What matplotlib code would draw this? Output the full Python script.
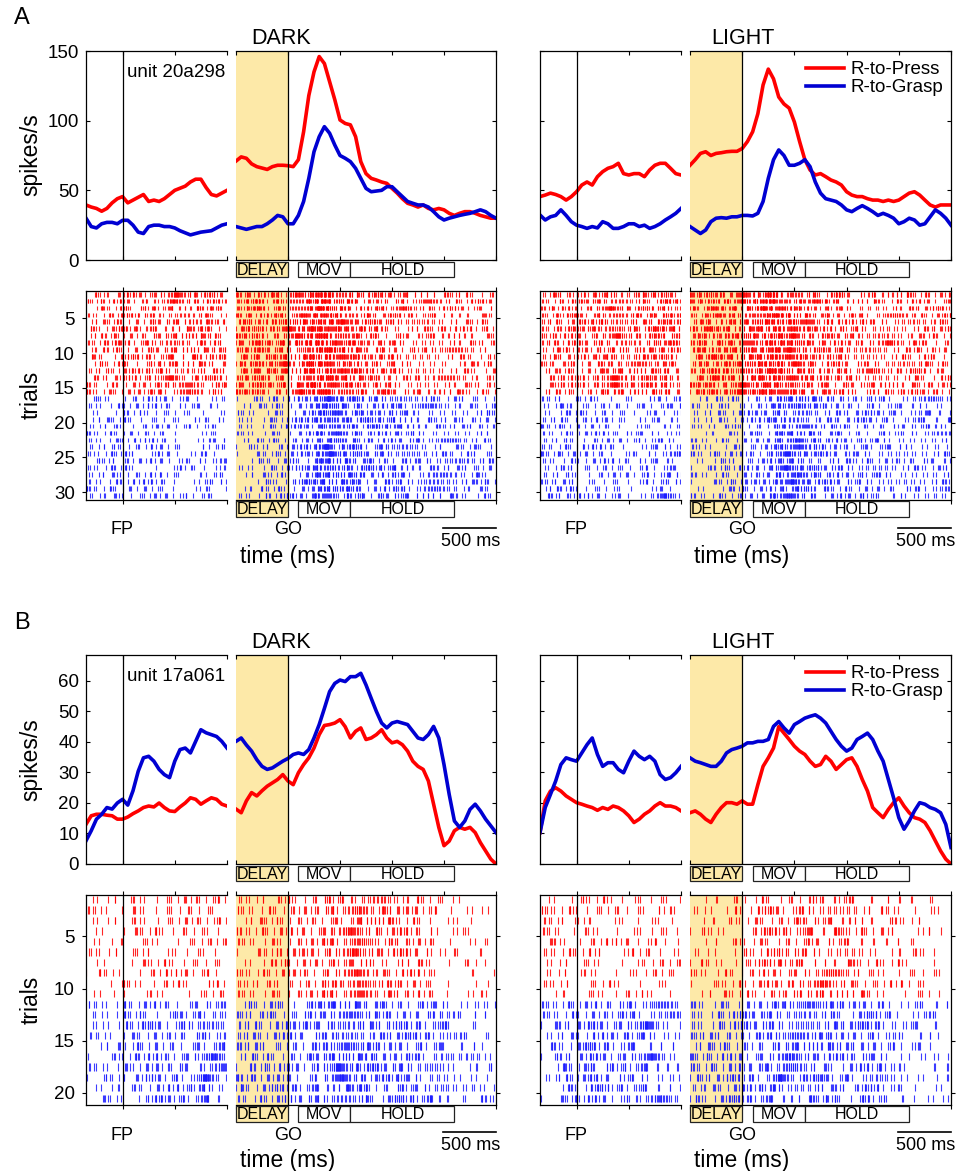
import numpy as np
import matplotlib
matplotlib.use('Agg')
import matplotlib.pyplot as plt
from matplotlib.patches import Rectangle
from matplotlib.lines import Line2D

plt.rcParams['font.family'] = ['Liberation Sans', 'DejaVu Sans']

W, H = 957, 1171
RED = '#ff0000'
BLUE = '#0000d2'
RASTER_BLUE = '#1a1aff'
DELAY_FILL = '#fde9a8'

# time bases (ms): left part aligned on FP, right part aligned on GO
t_fp = np.arange(-350, 1001, 50)
t_go = np.arange(-500, 2001, 50)

# ---- unit 20a298 (A), firing rate in spikes/s ----
a_dark_press_fp = [39.5, 38, 37, 35, 37, 41, 44, 45.5, 41, 43, 45, 47, 42, 43, 42, 44, 47, 50, 51.5, 53,
                   56, 58, 58, 52, 47, 46, 48, 50]
a_dark_grasp_fp = [30, 24, 23, 26, 27, 27, 26, 28.5, 28.5, 25, 20, 19, 24, 25, 25, 24, 24, 23, 21, 19.5,
                   18, 19, 20, 20.5, 21, 23, 25, 26]
a_dark_press_go = [71, 74, 73, 69, 67, 66, 65, 67, 68, 68, 67.7, 67, 72, 92, 118, 135, 146, 141, 128, 115,
                   100.5, 98, 97, 88.5, 70.6, 62, 58.6, 57.4, 56, 55, 51.4, 48, 44, 40.7, 39.5, 38, 39.5, 37,
                   36, 37, 36, 33.5, 32, 33.5, 34.7, 34.7, 33.5, 32, 31, 30, 30]
a_dark_grasp_go = [24, 23, 22, 23, 24, 24, 26, 28.7, 32, 31, 26, 26, 32, 42, 58.6, 77.7, 88.5, 95.7, 91, 82.5,
                   75, 73, 70.6, 65.8, 58.6, 51.4, 49, 49.5, 50, 52.6, 52.6, 49, 45.5, 42, 40.7, 39.5, 39.5,
                   38, 34.7, 31, 28.7, 30, 31, 32, 32.8, 33.5, 34.7, 36, 34.7, 32, 30]
a_light_press_fp = [45.5, 46.6, 48, 47, 45.5, 43, 45.5, 49, 53.8, 56, 53.8, 59.8, 63.4, 65.8, 67, 69.4, 62,
                    61, 62, 62, 59.8, 64.6, 68, 69.4, 69.4, 65.8, 62, 61]
a_light_grasp_fp = [32.3, 28.7, 31, 32, 36, 32, 27.5, 25, 24, 22.7, 24, 23, 27.5, 26, 22.7, 22.7, 24, 26, 26,
                    24, 25, 22.7, 24, 26, 28.7, 31, 33.5, 37]
a_light_press_go = [68, 72, 76.5, 77.7, 75, 76.5, 77, 77.7, 78, 78, 80, 85, 92, 105, 125.6, 137, 130, 117, 112,
                    109, 99, 85, 72, 64.6, 61, 62, 59.8, 57.4, 56, 53.8, 49, 46.6, 45.5, 45.5, 44, 43, 43,
                    42, 43, 42, 43, 45.5, 48, 49, 46.6, 43, 39.5, 38, 39.5, 39.5, 39.5]
a_light_grasp_go = [24, 21.5, 19, 21.5, 27.5, 30, 30.4, 30, 31, 31, 32, 32, 31.6, 33.5, 42, 58.6, 72, 79, 75,
                    68, 68, 69.4, 72, 67, 56, 48, 44, 43, 42, 39.5, 36, 34.7, 37, 39, 37, 34.7, 32, 33.5, 32,
                    30, 26, 27.5, 30, 28.7, 25, 26, 31, 36, 33.5, 30, 25]

# ---- unit 17a061 (B) ----
b_dark_press_fp = [13, 15.8, 16.3, 16.3, 16, 15.8, 14.7, 14.7, 15.4, 16.5, 17.4, 18.5, 19, 18.7, 20, 18.5,
                   17.4, 17.2, 18.7, 20, 21.7, 21.2, 19.6, 20.7, 21.7, 21.2, 19.6, 19]
b_dark_grasp_fp = [7.6, 10.9, 14.7, 16.3, 18.5, 18, 20, 21.2, 19.3, 24, 30.4, 34.8, 35.3, 33.7, 31, 29.3,
                   28.3, 33.7, 37.5, 38, 36.4, 40.2, 44, 43, 42.4, 41.8, 40.2, 38]
b_dark_press_go = [18, 16.8, 20.7, 23.4, 22.3, 24, 25.5, 26.6, 27.7, 29.3, 27.2, 26, 29.9, 32.6, 34.8, 38,
                   42.4, 45.4, 45.7, 46.2, 47.3, 45, 41.3, 43.5, 44.6, 40.8, 41.3, 42.4, 44, 41.3, 39.7, 40.2,
                   39.1, 37, 33.7, 32, 31, 27.2, 19.6, 12, 6, 7.5, 10.9, 12, 11.4, 12, 10.3, 7, 4.3, 1.6, 0]
b_dark_grasp_go = [40.2, 41.3, 39, 37, 34.2, 32, 31, 31.5, 32.6, 33.7, 34.6, 35.9, 36.4, 35.9, 37.5, 41.3,
                   45.7, 51, 56.5, 59.2, 60.3, 59.8, 61.4, 61.4, 62.5, 58.7, 54.3, 50, 46.2, 44.6, 46.2, 46.7,
                   46.2, 45.7, 43.5, 41.3, 40.8, 42.4, 45.1, 41.3, 32.6, 22.8, 14.1, 12, 14.1, 17.9, 19.6,
                   17.4, 14.7, 12.5, 10.3]
b_light_press_fp = [10.3, 20.7, 23.9, 25, 23.9, 22.3, 21.2, 20.1, 19.6, 19, 18.5, 17.6, 18.5, 17.9, 19, 18.5,
                    17.4, 15.8, 13.6, 14.7, 16.3, 17.4, 19, 20.1, 19, 19, 18.5, 17.4]
b_light_grasp_fp = [10.3, 18.5, 22.8, 27.2, 32.6, 34.8, 34.2, 33.7, 36.4, 39.1, 41.3, 35.9, 32, 33.2, 33.2,
                    31, 29.9, 33.7, 37, 35.3, 34.2, 35.3, 33.7, 29.3, 27.7, 28.3, 29.9, 32]
b_light_press_go = [16.8, 17.4, 16.3, 14.7, 13.6, 16.3, 18.5, 20.1, 20.1, 19.6, 20.7, 19.6, 19.6, 26, 32, 34.8,
                    38, 45, 42.9, 40.8, 38.6, 37, 35.9, 33.7, 32, 32.6, 35.3, 33.7, 31, 32.6, 34.2, 34.8, 32,
                    27.7, 23.9, 18.5, 16.8, 15.2, 17.9, 20.1, 21.7, 19, 16.8, 15.2, 14.7, 13.6, 10.9, 7.6,
                    4.3, 1.6, 0]
b_light_grasp_go = [34.8, 33.7, 33.2, 32.6, 32, 32, 33.7, 36.4, 37.5, 38, 38.6, 39.7, 39.7, 40.2, 40.2, 40.8,
                    45.1, 46.7, 44.6, 42.9, 45.7, 46.7, 47.8, 48.4, 48.9, 47.8, 46.2, 43.5, 40.8, 38.6, 37,
                    38, 40.8, 41.8, 42.9, 40.8, 37, 33.7, 27.7, 21.7, 15.2, 11.4, 14.1, 17.4, 20.1, 19.6,
                    18.5, 17.9, 16.8, 13, 5.4]

# trials per condition (press, grasp)
a_trials = (15, 15)
b_trials = (10, 10)

event_names = ['DELAY', 'MOV', 'HOLD']
event_start = [-500, 100, 600]
event_end = [0, 600, 1600]

fig = plt.figure(figsize=(W / 100, H / 100), dpi=100)


def frac(x0, y0, x1, y1):
    return [x0 / W, 1 - y1 / H, (x1 - x0) / W, (y1 - y0) / H]


def ftext(x, y, s, **kw):
    fig.text(x / W, 1 - y / H, s, **kw)


def pair(xs, y0, y1, raster, labels):
    axl = fig.add_axes(frac(xs[0], y0, xs[1], y1))
    axr = fig.add_axes(frac(xs[2], y0, xs[3], y1))
    axl.set_xlim(-350, 1000)
    axr.set_xlim(-500, 2000)
    axl.set_xticks([0, 500, 1000])
    axr.set_xticks(np.arange(-500, 2001, 500))
    axl.spines['right'].set_visible(False)
    axr.spines['left'].set_visible(False)
    d = 'out' if raster else 'in'
    for ax in (axl, axr):
        ax.tick_params(direction=d, length=3, width=0.8, top=True, bottom=True,
                       labelbottom=False, labelsize=13.5, pad=5)
        for s in ax.spines.values():
            s.set_linewidth(0.9)
    axl.tick_params(axis='y', left=True, right=False, labelleft=labels)
    axr.tick_params(axis='y', left=False, right=True, labelleft=False)
    axr.axvspan(-500, 0, color=DELAY_FILL, lw=0, zorder=0)
    axl.axvline(0, color='k', lw=0.9, zorder=3)
    axr.axvline(0, color='k', lw=0.9, zorder=3)
    return axl, axr


def spikes(t, rate, lo, hi, trial):
    # spike times whose density follows the read-off rate curve
    tt = np.arange(lo, hi, 1.0)
    cum = np.cumsum(np.interp(tt, t, rate)) / 1000.0
    j = np.arange(1, int(cum[-1]) + 40)
    u = (0.7548776662 * j * j + 0.5698402910 * j + 0.3819660113 * trial * trial + 0.137 * trial) % 1.0
    marks = np.cumsum(-np.log(1.0 - 0.995 * u))
    marks = marks[marks < cum[-1]]
    return np.interp(marks, cum, tt)


def strip(xs, y0, y1):
    ax = fig.add_axes(frac(xs[2], y0, xs[3], y1))
    ax.set_xlim(-500, 2000)
    ax.set_ylim(0, 1)
    ax.axis('off')
    for name, a, b in zip(event_names, event_start, event_end):
        fc = DELAY_FILL if name == 'DELAY' else 'white'
        ax.add_patch(Rectangle((a, 0), b - a, 1, facecolor=fc, edgecolor='#222222', lw=0.9, clip_on=False))
        ax.text((a + b) / 2, 0.45, name, ha='center', va='center', fontsize=11.5)


def panel(xs, rows, curves, trials, ymax, yticks, rticks, seed, labels, unit, legend):
    press_fp, grasp_fp, press_go, grasp_go = curves
    # PSTH
    axl, axr = pair(xs, rows[0], rows[1], False, labels)
    for ax, t, p, g in ((axl, t_fp, press_fp, grasp_fp), (axr, t_go, press_go, grasp_go)):
        ax.plot(t, p, color=RED, lw=2.6, label='R-to-Press')
        ax.plot(t, g, color=BLUE, lw=2.6, label='R-to-Grasp')
        ax.set_ylim(0, ymax)
        ax.set_yticks(yticks)
    if unit:
        axl.text(0.99, 0.94, unit, transform=axl.transAxes, ha='right', va='top', fontsize=13.5)
    if legend:
        axr.legend(loc='upper right', bbox_to_anchor=((xs[3] - 8) / W, 1 - (rows[0] + 10) / H),
                   bbox_transform=fig.transFigure, frameon=False, fontsize=13.5, handlelength=2.0,
                   handletextpad=0.35, labelspacing=0.05, borderpad=0, borderaxespad=0)
    strip(xs, rows[1] + 2, rows[1] + 17)
    # raster
    bl, br = pair(xs, rows[2], rows[3], True, labels)
    n = trials[0] + trials[1]
    row = 1
    for fp_rate, go_rate, count, color in ((press_fp, press_go, trials[0], RED),
                                           (grasp_fp, grasp_go, trials[1], RASTER_BLUE)):
        for k in range(count):
            bl.eventplot(spikes(t_fp, fp_rate, -350, 1000, seed + row), lineoffsets=row + 0.5,
                         linelengths=0.7, colors=color, linewidths=0.8, alpha=0.85)
            br.eventplot(spikes(t_go, go_rate, -500, 2000, seed + 50 + row), lineoffsets=row + 0.5,
                         linelengths=0.7, colors=color, linewidths=0.8, alpha=0.85)
            row += 1
    for ax in (bl, br):
        ax.set_ylim(n + 1.15, 1.05)
        ax.set_yticks(rticks)
    strip(xs, rows[3] + 1, rows[3] + 17)


dark_x = (86, 227, 236, 496)
light_x = (540, 681, 690, 951)
rows_a = (51, 260, 291, 500)
rows_b = (655, 864, 895, 1105)

panel(dark_x, rows_a, (a_dark_press_fp, a_dark_grasp_fp, a_dark_press_go, a_dark_grasp_go), a_trials,
      150, [0, 50, 100, 150], [5, 10, 15, 20, 25, 30], 1, True, 'unit 20a298', False)
panel(light_x, rows_a, (a_light_press_fp, a_light_grasp_fp, a_light_press_go, a_light_grasp_go), a_trials,
      150, [0, 50, 100, 150], [5, 10, 15, 20, 25, 30], 201, False, None, True)
panel(dark_x, rows_b, (b_dark_press_fp, b_dark_grasp_fp, b_dark_press_go, b_dark_grasp_go), b_trials,
      68.5, np.arange(0, 61, 10), [5, 10, 15, 20], 401, True, 'unit 17a061', False)
panel(light_x, rows_b, (b_light_press_fp, b_light_grasp_fp, b_light_press_go, b_light_grasp_go), b_trials,
      68.5, np.arange(0, 61, 10), [5, 10, 15, 20], 601, False, None, True)

# labels and annotations
ftext(22, 18, 'A', fontsize=17, ha='center', va='center')
ftext(22, 623, 'B', fontsize=17, ha='center', va='center')
for y in (38, 642):
    ftext(281, y, 'DARK', fontsize=15.5, ha='center', va='center')
    ftext(743, y, 'LIGHT', fontsize=15.5, ha='center', va='center')
for yc_psth, yc_rast in ((155, 395), (760, 1000)):
    ftext(31, yc_psth, 'spikes/s', fontsize=16.5, rotation=90, ha='center', va='center')
    ftext(31, yc_rast, 'trials', fontsize=16.5, rotation=90, ha='center', va='center')
for y_ev, y_time, y_bar in ((530, 556, 528), (1135, 1160, 1132)):
    for fp_x, go_x, bar in ((122, 288, (443, 496)), (576, 742, (898, 951))):
        ftext(fp_x, y_ev, 'FP', fontsize=13, ha='center', va='center')
        ftext(go_x, y_ev, 'GO', fontsize=13, ha='center', va='center')
        ftext(go_x, y_time, 'time (ms)', fontsize=16.5, ha='center', va='center')
        fig.add_artist(Line2D([bar[0] / W, bar[1] / W], [1 - y_bar / H] * 2, color='k', lw=1.2))
        ftext((bar[0] + bar[1]) / 2 + 1, y_bar + 13, '500 ms', fontsize=13, ha='center', va='center')

fig.savefig('out.png', dpi=100, facecolor='white')
